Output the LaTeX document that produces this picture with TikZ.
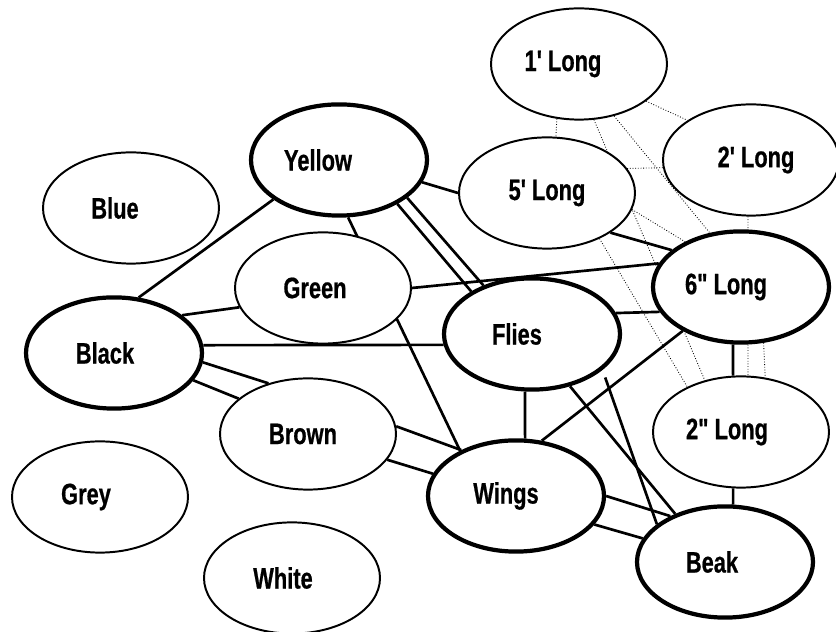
\documentclass[tikz,border=0pt]{standalone}
\usepackage{fontspec}
\newfontfamily\tagfont{Liberation Sans}[FakeStretch=0.74,BoldFeatures={FakeBold=0.6}]
\usetikzlibrary{shapes.geometric,backgrounds}

\begin{document}
\begin{tikzpicture}[
        bubble/.style={ellipse,draw,fill=white,line width=1.4pt,minimum width=4.4cm,minimum height=2.78cm,inner sep=0pt,font=\tagfont\bfseries\fontsize{21}{25}\selectfont},
        key/.style={bubble,line width=3pt},
        link/.style={line width=1.9pt},
        faint/.style={line width=0.6pt,dash pattern=on 0.6pt off 1.3pt}]
                    \useasboundingbox (0,0) rectangle (20.9,15.8);
                    \node[bubble] (oneft) at (14.475,14.2) {1' Long\hspace*{0.8cm}};
                    \node[bubble] (twoft) at (18.775,11.8) {\hspace*{0.25cm}2' Long};
                    \node[bubble] (fiveft) at (13.675,10.975) {5' Long};
                    \node[key] (yellow) at (8.475,11.8) {Yellow\hspace*{1.05cm}};
                    \node[bubble] (blue) at (3.275,10.6) {Blue\hspace*{0.8cm}};
                    \node[bubble] (green) at (8.075,8.6) {Green\hspace*{0.4cm}};
                    \node[key] (black) at (2.85,6.975) {Black\hspace*{0.45cm}};
                    \node[bubble] (brown) at (7.7,4.95) {Brown\hspace*{0.25cm}};
                    \node[bubble] (grey) at (2.5,3.375) {Grey\hspace*{0.7cm}};
                    \node[bubble] (white) at (7.3,1.35) {White\hspace*{0.45cm}};
                    \node[key] (flies) at (13.3,7.45) {Flies\hspace*{0.75cm}};
                    \node[key] (sixin) at (18.525,8.625) {6" Long\hspace*{0.75cm}};
                    \node[bubble] (twoin) at (18.525,5.0) {2" Long\hspace*{0.7cm}};
                    \node[key] (wings) at (12.9,3.4) {Wings\hspace*{0.5cm}};
                    \node[key] (beak) at (18.125,1.75) {Beak\hspace*{0.65cm}};
                    \begin{pgfonlayer}{background}
                    \draw[link] (yellow.211) -- (black.66);
                    \draw[link] (yellow.-81) -- (wings.141);
                    \draw[link] (yellow.-15) -- (fiveft.180);
                    \draw[link] (yellow.-37) -- (flies.145);
                    \draw[link] (yellow.-29) -- (flies.135);
                    \draw[link] (black.29) -- (green.193);
                    \draw[link] (green.0) -- (sixin.164);
                    \draw[link] (black.5) -- (flies.187);
                    \draw[link] (black.-6) -- (brown.128);
                    \draw[link] (black.-19) -- (brown.153);
                    \draw[link] (brown.5) -- (wings.140);
                    \draw[link] (brown.-18) -- (wings.165);
                    \draw[link] (flies.-97) -- (wings.81);
                    \draw[link] (flies.14) -- (sixin.197);
                    \draw[link] (wings.65) -- (sixin.217);
                    \draw[link] (flies.-54) -- (beak.136);
                    \draw[link,shorten <=0.2cm] (flies.-27) -- (beak.151);
                    \draw[link] (wings.0) -- (beak.140);
                    \draw[link] (wings.-20) -- (beak.164);
                    \draw[link] (fiveft.-32) -- (sixin.152);
                    \draw[link] (sixin.-98) -- (twoin.98);
                    \draw[link] (twoin.-98) -- (beak.82);
                    \draw[faint] (oneft.-112) -- (fiveft.81);
                    \draw[faint] (oneft.-29) -- (twoft.148);
                    \draw[faint] (oneft.-56) -- (sixin.120);
                    \draw[faint] (oneft.-75) -- (twoin.125);
                    \draw[faint] (fiveft.17) -- (twoft.185);
                    \draw[faint] (fiveft.-11) -- (sixin.141);
                    \draw[faint] (fiveft.-41) -- (twoin.140);
                    \draw[faint] (twoft.-93) -- (twoin.83);
                    \draw[faint] (sixin.-68) -- (twoin.66);
                    \end{pgfonlayer}
                \end{tikzpicture}
\end{document}
